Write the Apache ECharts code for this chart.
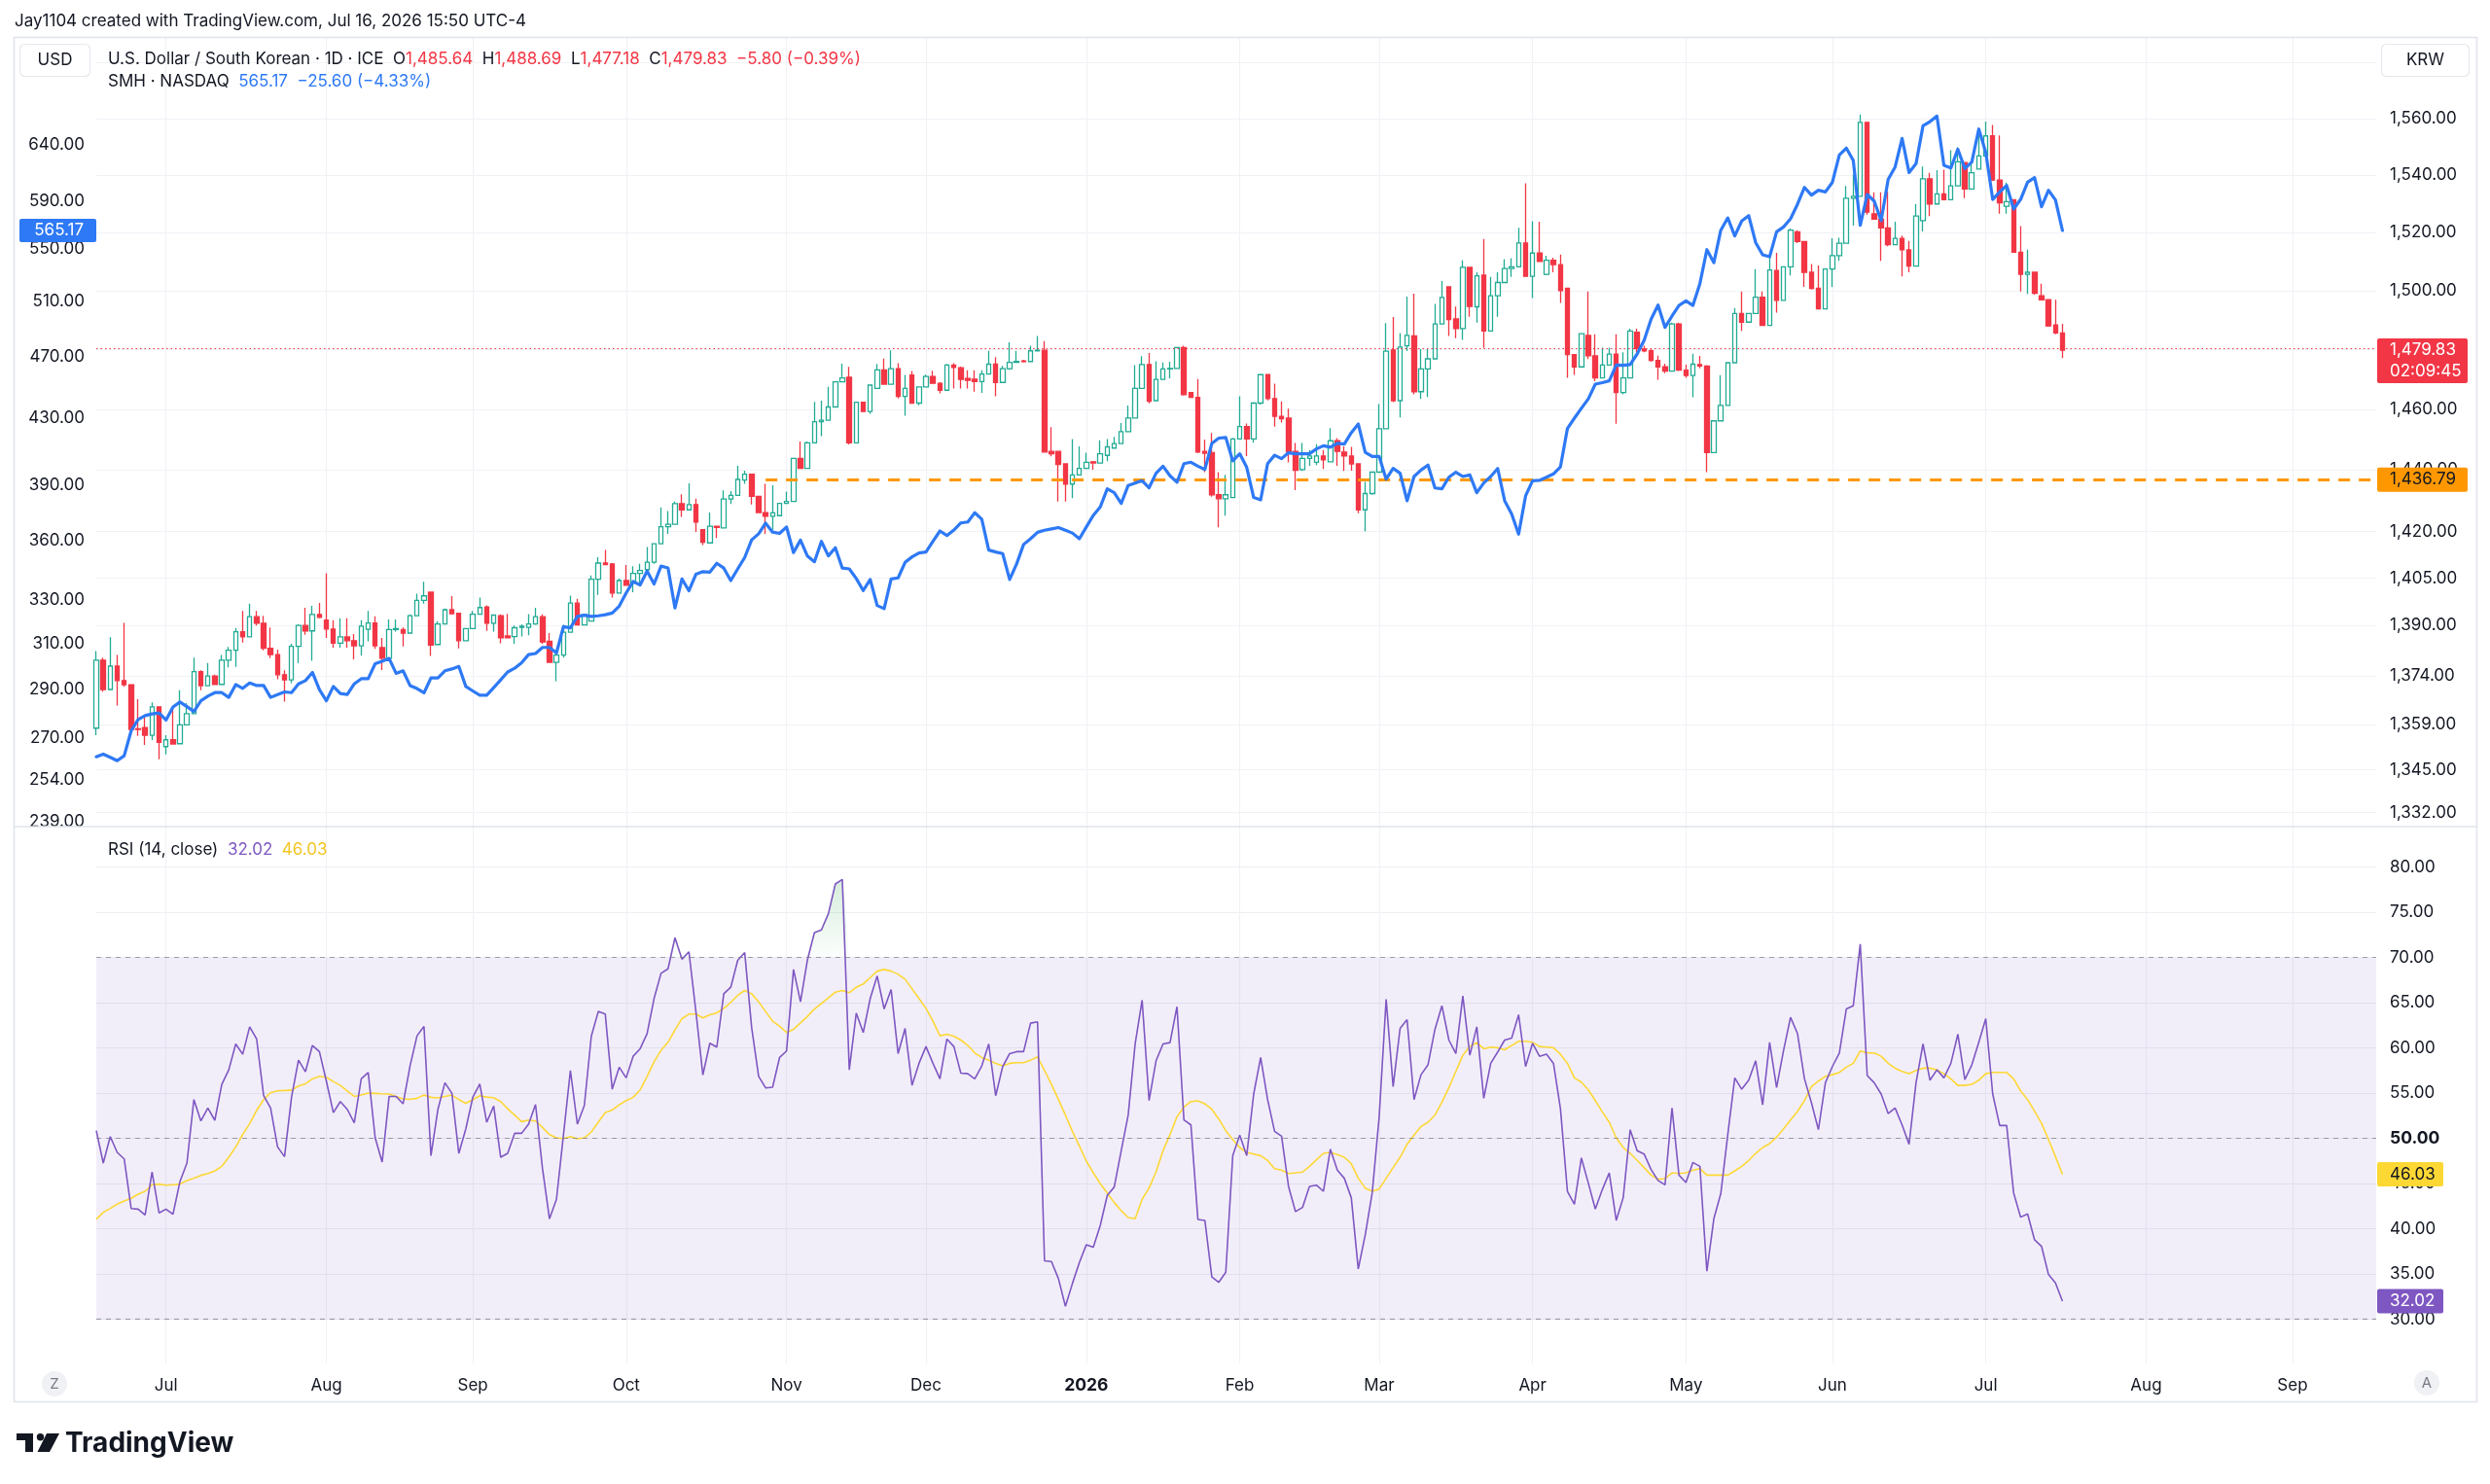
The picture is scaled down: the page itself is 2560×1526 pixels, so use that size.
<!DOCTYPE html>
<html><head><meta charset="utf-8">
<script src="https://cdn.jsdelivr.net/npm/echarts@6/dist/echarts.min.js"></script>
<style>html,body{margin:0;padding:0;background:#fff;}#c{width:2560px;height:1526px;}</style>
</head><body><div id="c"></div>
<script>
// ---------- data ----------
const krwOpen = [
1357.8,1379.0,1369.8,1377.1,1372.6,1371.3,1357.6,1358.0,1355.6,1364.4,
1352.1,1354.2,1353.0,1358.8,1362.3,1375.4,1371.0,1374.0,1371.4,1379.0,
1382.1,1387.9,1386.3,1392.7,1390.6,1382.7,1380.7,1374.4,1372.8,1383.3,
1389.9,1388.2,1393.4,1391.6,1388.8,1384.3,1386.3,1385.1,1383.5,1388.7,
1390.7,1382.9,1379.6,1388.6,1388.6,1387.5,1393.0,1397.9,1400.5,1383.9,
1390.4,1394.9,1393.8,1385.1,1388.9,1393.5,1395.8,1390.6,1393.0,1386.6,
1386.4,1389.3,1389.3,1390.4,1392.7,1384.9,1378.3,1380.6,1387.8,1397.0,
1390.1,1391.3,1404.6,1409.8,1409.5,1400.2,1404.2,1403.3,1406.5,1407.7,
1410.1,1416.0,1421.5,1422.3,1429.0,1427.0,1428.7,1420.6,1416.3,1421.7,
1421.1,1430.5,1431.7,1436.7,1438.6,1431.4,1426.1,1424.9,1425.1,1429.1,
1429.7,1443.8,1440.5,1448.9,1455.9,1456.4,1460.8,1469.2,1470.7,1448.9,
1462.4,1459.3,1467.0,1473.2,1468.4,1473.6,1464.3,1471.5,1462.1,1467.5,
1471.0,1468.7,1466.4,1474.8,1473.9,1470.3,1470.1,1469.3,1471.8,1475.1,
1469.0,1473.6,1475.7,1476.2,1476.0,1479.6,1479.8,1446.1,1446.1,1442.0,
1435.4,1438.4,1440.5,1442.7,1442.3,1444.8,1447.2,1448.7,1452.6,1457.1,
1467.0,1475.0,1462.9,1470.0,1473.5,1473.7,1480.7,1465.6,1464.0,1446.1,
1445.7,1431.9,1430.6,1431.0,1450.2,1454.3,1450.2,1462.1,1471.6,1463.6,
1457.7,1457.1,1446.1,1440.1,1443.8,1442.5,1444.6,1442.7,1449.6,1445.9,
1444.6,1442.0,1427.0,1432.3,1439.3,1453.6,1479.9,1462.9,1481.3,1484.6,
1465.9,1473.5,1476.9,1488.7,1501.3,1490.4,1487.1,1508.0,1494.5,1505.3,
1486.3,1498.3,1502.8,1507.6,1508.2,1516.4,1504.9,1512.9,1505.6,1510.4,
1508.9,1500.8,1478.3,1474.2,1484.8,1477.9,1470.5,1474.8,1478.5,1465.6,
1470.5,1485.9,1480.2,1479.6,1476.4,1474.2,1472.8,1488.7,1473.1,1471.3,
1475.0,1474.5,1445.7,1456.2,1461.3,1475.6,1492.2,1489.3,1492.2,1497.8,
1488.2,1506.9,1496.7,1508.2,1520.2,1516.9,1506.3,1500.8,1493.8,1507.4,
1512.0,1516.3,1531.9,1532.6,1558.6,1526.5,1524.6,1521.6,1515.8,1518.0,
1514.0,1508.4,1524.1,1538.7,1529.9,1533.4,1531.4,1536.2,1544.4,1535.1,
1542.1,1546.7,1553.8,1538.3,1529.1,1531.4,1513.2,1505.6,1506.3,1498.3,
1496.9,1488.3,1485.64];
const krwHigh = [
1381.8,1379.8,1386.2,1380.6,1390.7,1371.3,1366.8,1361.1,1365.8,1364.4,
1355.6,1363.6,1369.6,1365.6,1379.8,1375.8,1378.1,1374.4,1380.6,1383.1,
1389.1,1394.5,1396.8,1394.5,1393.0,1389.3,1382.3,1375.8,1384.1,1390.3,
1395.5,1396.1,1397.1,1406.5,1391.6,1392.2,1392.2,1387.2,1391.6,1394.5,
1392.8,1386.0,1391.8,1391.8,1389.3,1393.4,1400.0,1403.8,1400.5,1391.3,
1395.3,1399.2,1393.8,1389.1,1394.5,1398.8,1396.3,1393.4,1393.4,1393.6,
1389.9,1390.3,1393.5,1395.5,1393.4,1387.5,1382.3,1390.1,1399.4,1398.4,
1393.4,1405.8,1411.7,1414.0,1409.8,1404.8,1409.2,1408.8,1409.6,1415.0,
1416.2,1427.8,1426.6,1429.7,1432.1,1435.6,1430.6,1420.6,1426.1,1421.7,
1433.3,1433.1,1441.4,1439.8,1438.6,1431.4,1435.5,1435.0,1429.1,1432.9,
1443.8,1449.4,1449.4,1462.5,1462.9,1467.5,1469.2,1475.3,1474.2,1462.4,
1462.4,1468.1,1475.2,1477.0,1479.8,1475.4,1471.5,1472.8,1467.5,1471.6,
1472.9,1469.1,1475.2,1475.4,1474.3,1473.1,1473.1,1473.1,1479.6,1477.5,
1474.5,1482.5,1479.6,1476.6,1481.3,1484.6,1482.9,1454.1,1446.1,1442.0,
1450.2,1447.8,1445.7,1442.7,1449.8,1450.2,1450.9,1455.5,1461.3,1474.8,
1477.8,1478.9,1476.1,1475.7,1475.9,1480.9,1481.3,1465.6,1470.1,1450.0,
1452.2,1439.3,1438.4,1450.6,1464.4,1455.3,1462.4,1471.8,1471.8,1468.6,
1462.7,1460.2,1448.9,1448.9,1446.6,1448.5,1446.6,1453.8,1450.5,1447.8,
1447.6,1442.0,1436.1,1439.3,1461.8,1489.0,1491.0,1485.6,1498.0,1499.0,
1480.2,1480.2,1495.5,1503.3,1501.3,1494.6,1510.4,1508.0,1506.3,1517.8,
1504.7,1506.3,1510.8,1511.1,1521.6,1537.1,1523.9,1523.7,1512.0,1511.3,
1512.4,1500.8,1478.3,1485.4,1499.7,1485.2,1480.7,1480.7,1485.2,1479.1,
1487.1,1487.1,1481.3,1480.2,1478.0,1475.3,1489.1,1489.1,1474.9,1478.6,
1477.9,1474.8,1456.2,1471.4,1475.6,1494.1,1499.7,1492.2,1507.4,1499.7,
1511.9,1513.0,1508.2,1521.4,1520.8,1516.9,1509.1,1508.6,1507.4,1518.0,
1518.2,1536.2,1540.2,1561.4,1558.6,1534.0,1534.0,1534.2,1523.7,1518.9,
1517.1,1529.9,1543.0,1540.8,1541.7,1541.9,1548.7,1549.8,1544.4,1544.7,
1553.8,1558.9,1557.7,1554.0,1537.4,1531.6,1522.2,1514.1,1506.3,1502.4,
1496.9,1496.9,1488.69];
const krwLow = [
1355.6,1369.1,1369.8,1364.8,1370.6,1357.1,1355.4,1352.6,1354.1,1348.2,
1349.7,1352.9,1353.0,1358.6,1362.3,1369.6,1371.0,1371.4,1371.4,1376.7,
1376.9,1384.5,1386.3,1389.9,1382.1,1379.6,1373.0,1366.0,1371.8,1378.1,
1387.0,1378.8,1392.2,1386.0,1382.9,1382.9,1382.9,1379.2,1380.4,1384.9,
1382.5,1375.9,1379.6,1388.0,1383.3,1387.5,1393.0,1396.8,1380.3,1383.9,
1390.3,1393.6,1382.7,1385.1,1388.9,1393.5,1388.2,1388.0,1384.3,1386.0,
1384.1,1386.4,1386.8,1390.1,1384.1,1378.3,1372.4,1379.8,1387.8,1390.1,
1390.1,1391.1,1399.6,1409.2,1398.8,1400.2,1402.7,1400.5,1403.3,1407.5,
1409.6,1415.8,1419.2,1422.1,1424.7,1427.0,1419.8,1415.6,1416.3,1417.9,
1421.1,1428.9,1431.7,1435.5,1428.7,1426.1,1419.2,1420.5,1425.1,1428.9,
1429.7,1440.5,1440.5,1448.9,1451.1,1456.4,1460.8,1469.2,1448.4,1448.9,
1459.1,1458.5,1467.0,1468.4,1468.4,1463.6,1457.9,1461.9,1461.4,1467.3,
1468.5,1465.3,1466.4,1467.0,1467.0,1467.0,1465.9,1465.5,1471.8,1464.4,
1469.0,1473.2,1475.5,1475.7,1476.0,1479.4,1445.7,1444.5,1429.7,1429.7,
1430.8,1438.4,1440.3,1440.1,1442.3,1442.9,1447.0,1448.5,1452.6,1457.1,
1467.0,1462.0,1462.9,1470.0,1470.4,1473.7,1464.6,1463.8,1445.5,1439.3,
1431.3,1421.3,1425.1,1430.8,1450.2,1444.6,1449.0,1461.6,1463.0,1454.3,
1455.6,1442.5,1433.4,1439.7,1441.4,1441.6,1440.3,1442.5,1441.4,1439.7,
1439.8,1425.9,1420.0,1431.9,1439.3,1453.6,1462.4,1457.3,1479.5,1465.0,
1463.5,1464.1,1476.9,1488.7,1484.6,1483.9,1483.3,1491.1,1489.1,1480.6,
1486.3,1491.1,1502.8,1504.7,1508.2,1504.7,1497.5,1510.0,1505.3,1506.3,
1495.8,1470.5,1471.5,1473.9,1476.8,1469.4,1470.5,1474.8,1455.2,1465.0,
1470.5,1479.1,1479.1,1475.9,1469.9,1472.1,1472.8,1472.8,1470.5,1464.0,
1473.7,1439.3,1445.7,1456.2,1461.3,1475.6,1486.3,1489.1,1492.2,1488.0,
1488.0,1492.5,1496.7,1505.2,1516.3,1501.3,1500.4,1493.8,1493.6,1501.3,
1510.2,1516.3,1522.4,1532.6,1526.2,1524.6,1510.2,1515.2,1515.8,1504.9,
1506.3,1508.4,1520.4,1525.7,1529.9,1531.4,1531.4,1536.2,1531.9,1535.1,
1541.9,1546.7,1538.0,1526.5,1526.5,1513.2,1499.7,1498.9,1498.6,1496.9,
1487.7,1485.2,1477.18];
const krwClose = [
1379.0,1369.8,1377.1,1372.6,1371.3,1357.4,1357.4,1355.6,1364.4,1353.4,
1354.2,1352.9,1358.8,1362.3,1375.4,1371.0,1374.0,1371.4,1379.0,1382.1,
1387.9,1386.3,1392.7,1390.6,1382.7,1380.7,1374.4,1372.8,1383.3,1389.9,
1388.2,1393.4,1392.5,1388.8,1384.3,1386.3,1385.1,1383.5,1389.7,1390.7,
1383.5,1379.6,1388.6,1388.9,1387.5,1393.0,1397.9,1399.3,1383.7,1390.4,
1394.9,1393.6,1385.1,1388.9,1393.5,1395.6,1390.6,1393.2,1386.0,1386.0,
1389.2,1389.7,1390.4,1392.7,1384.7,1378.3,1380.6,1387.8,1397.0,1390.1,
1393.4,1404.6,1409.8,1409.3,1400.2,1404.2,1402.7,1406.5,1407.4,1410.1,
1416.0,1421.5,1422.3,1429.0,1427.0,1428.7,1423.0,1416.5,1421.7,1421.3,
1430.5,1431.7,1436.9,1438.6,1431.4,1426.1,1424.9,1426.0,1429.1,1429.7,
1443.8,1440.5,1448.9,1455.9,1456.4,1460.8,1469.2,1470.5,1448.9,1462.4,
1459.3,1468.1,1473.2,1468.4,1473.6,1464.3,1467.0,1462.1,1467.5,1471.0,
1468.7,1466.4,1474.8,1474.0,1470.0,1469.7,1469.3,1471.8,1475.1,1469.0,
1473.6,1475.7,1476.0,1476.0,1479.6,1479.8,1445.9,1445.3,1441.8,1435.4,
1438.4,1440.5,1442.5,1442.3,1445.3,1447.6,1448.7,1452.6,1457.1,1467.0,
1475.0,1462.7,1470.0,1473.5,1473.7,1480.7,1464.9,1464.0,1445.9,1445.5,
1431.9,1430.6,1431.9,1450.2,1454.3,1450.2,1462.1,1471.6,1463.6,1457.7,
1456.9,1445.9,1439.9,1443.8,1444.6,1444.6,1443.3,1449.6,1446.1,1444.6,
1442.0,1427.0,1432.3,1439.3,1453.6,1479.5,1462.9,1480.9,1484.8,1465.9,
1473.5,1476.9,1488.7,1497.7,1490.2,1487.1,1508.0,1494.6,1505.1,1486.3,
1498.3,1502.8,1507.6,1508.2,1516.4,1504.9,1512.9,1510.0,1510.4,1508.9,
1500.0,1478.3,1474.2,1485.4,1477.9,1470.5,1474.8,1478.5,1465.6,1470.5,
1486.3,1480.4,1479.6,1476.4,1474.2,1472.8,1488.7,1473.1,1471.3,1475.1,
1474.5,1445.7,1456.2,1461.3,1475.6,1492.2,1489.3,1492.2,1497.8,1488.2,
1507.1,1496.7,1508.2,1520.8,1516.9,1506.3,1500.8,1493.8,1507.4,1512.0,
1516.3,1531.9,1532.6,1558.6,1527.1,1524.6,1521.6,1515.8,1518.0,1514.0,
1508.4,1525.7,1538.7,1529.9,1533.4,1531.4,1536.2,1544.7,1535.1,1540.8,
1546.7,1553.8,1538.3,1530.3,1530.7,1513.2,1505.6,1506.3,1499.1,1496.9,
1488.0,1485.63,1479.83];
const smhClose = [
262.8,263.8,262.6,261.3,263.2,272.9,277.4,279.0,279.7,280.1,
277.2,282.5,284.6,282.7,280.7,285.1,287.0,288.5,288.5,286.5,
291.9,290.3,292.6,291.5,291.5,286.5,287.7,288.8,288.5,292.2,
293.6,297.1,289.8,285.1,291.1,288.1,287.7,292.2,294.4,294.4,
300.9,302.0,303.2,296.7,297.8,291.5,290.2,288.4,294.7,294.7,
297.8,298.6,299.7,291.1,289.2,287.4,287.4,290.6,293.9,297.3,
298.9,301.3,304.9,305.4,308.1,308.1,305.6,317.6,317.0,322.3,
322.9,322.3,322.6,323.1,323.9,327.2,333.5,339.2,337.4,344.3,
337.9,346.8,345.9,326.3,340.4,334.6,342.7,344.0,343.8,348.2,
345.8,339.6,345.4,351.2,360.3,363.5,369.2,364.4,363.7,367.1,
353.7,360.2,351.9,349.0,359.5,352.0,356.2,345.8,345.4,340.6,
334.7,340.1,327.5,326.0,340.4,340.9,348.7,351.5,353.5,354.0,
359.5,365.0,362.6,365.5,369.3,369.8,374.8,371.3,355.0,354.0,
353.2,340.1,347.9,357.9,360.9,364.3,365.4,366.1,366.8,365.4,
363.9,360.9,367.1,373.4,378.0,388.1,385.9,379.9,390.0,391.4,
392.7,388.7,397.0,401.1,395.5,391.8,402.6,403.4,401.1,399.2,
414.6,417.8,418.2,404.2,408.4,400.4,383.2,381.9,402.6,407.5,
405.5,409.0,408.4,408.4,408.4,411.3,413.2,412.3,414.6,414.2,
421.1,426.5,409.3,406.8,406.8,393.6,399.8,397.0,381.4,395.1,
398.8,401.7,388.6,388.1,394.7,397.6,395.1,396.0,385.9,391.4,
395.1,399.7,381.4,374.2,363.3,384.1,392.7,392.9,394.7,396.6,
400.7,423.7,430.1,436.3,442.4,451.9,452.9,454.1,464.7,464.5,
465.0,472.2,481.6,496.7,507.0,490.8,499.0,506.8,510.1,506.8,
523.1,549.6,539.3,565.4,575.6,560.7,573.0,577.5,555.3,545.5,
544.0,564.1,568.1,574.8,587.2,601.7,595.0,599.2,597.8,606.2,
630.8,637.1,625.7,569.4,595.5,589.9,573.4,608.8,619.9,646.2,
614.9,622.8,658.1,662.2,667.5,621.3,619.0,636.1,618.4,624.3,
655.0,633.2,591.3,597.8,603.4,583.0,591.3,606.2,610.3,585.0,
599.2,590.77,565.17];
const rsiValues = [
50.86,47.28,50.21,48.46,47.74,42.26,42.19,41.55,46.31,41.77,
42.19,41.62,45.24,47.28,54.30,51.93,53.37,52.01,55.98,57.59,
60.45,59.31,62.35,60.99,54.73,53.37,49.07,47.99,54.55,58.66,
57.38,60.28,59.60,56.34,52.86,54.08,53.22,51.72,56.59,57.30,
50.07,47.39,54.65,54.65,53.83,58.02,61.35,62.39,48.10,53.22,
56.16,55.01,48.35,51.07,54.55,56.02,51.79,53.58,47.92,48.35,
50.57,50.57,51.58,53.76,46.67,41.12,43.27,50.36,57.52,51.58,
53.65,61.31,64.04,63.75,55.44,57.88,56.70,59.09,59.92,61.60,
65.47,68.26,68.76,72.20,69.82,70.64,64.04,57.02,60.53,60.10,
66.00,66.72,69.69,70.55,62.24,56.87,55.59,55.66,58.95,59.67,
68.69,65.11,69.75,72.76,73.06,74.85,78.14,78.64,57.59,63.86,
61.71,65.47,67.97,64.32,66.47,59.38,62.17,55.87,58.31,60.17,
58.31,56.59,60.99,60.17,57.23,57.16,56.59,58.02,60.45,54.73,
57.95,59.38,59.60,59.60,62.75,62.89,36.47,36.39,34.50,31.45,
33.96,36.29,38.26,37.97,40.40,43.70,44.63,48.64,52.58,60.45,
65.29,54.19,58.59,60.45,60.60,64.57,52.04,51.50,41.05,40.94,
34.68,34.10,35.21,48.10,50.36,48.10,54.91,58.95,54.30,50.79,
50.25,44.70,41.91,42.37,44.70,44.84,44.16,48.82,46.49,45.60,
43.45,35.57,39.33,43.98,52.40,65.40,55.73,62.17,63.14,54.30,
57.05,58.13,62.07,64.68,60.88,59.38,65.75,59.20,62.35,54.44,
58.31,59.56,60.88,61.10,63.68,57.95,60.53,59.09,59.31,58.31,
53.29,44.16,42.73,47.85,45.06,42.19,44.34,46.20,40.94,43.45,
50.97,48.64,48.28,46.56,45.35,44.88,53.37,45.95,45.13,47.35,
46.92,35.32,41.12,43.91,50.43,56.70,55.44,56.44,58.59,53.72,
60.63,55.62,59.74,63.39,61.60,56.59,53.94,50.97,56.16,57.95,
59.45,64.32,64.68,71.48,56.95,56.16,54.91,52.76,53.37,51.50,
49.36,56.16,60.45,56.44,57.59,56.70,58.31,61.53,56.52,58.13,
60.63,63.25,54.91,51.43,51.43,43.98,41.30,41.66,38.79,38.08,
34.96,34.03,32.02];
const rsiMA = [
41.05,41.84,42.27,42.73,43.09,43.38,43.84,44.16,44.88,44.95,
44.84,44.88,44.95,45.35,45.60,45.92,46.13,46.42,46.92,47.92,
49.07,50.43,51.65,53.11,54.30,55.08,55.26,55.30,55.33,55.80,
56.05,56.59,56.87,56.77,56.30,55.87,55.26,54.65,54.80,55.01,
54.98,54.94,54.91,54.65,54.37,54.33,54.44,54.80,54.55,54.48,
54.65,54.80,54.30,53.90,54.30,54.73,54.58,54.51,54.08,53.29,
52.58,51.86,52.04,51.93,51.22,50.43,50.07,50.00,50.21,49.96,
50.07,50.72,51.79,52.86,53.15,53.72,54.19,54.55,55.37,56.87,
58.48,59.74,60.63,61.99,63.25,63.75,63.75,63.32,63.68,63.89,
64.39,65.04,65.83,66.36,66.00,65.11,64.04,62.96,62.42,61.71,
62.07,62.78,63.50,64.32,64.93,65.54,66.18,66.36,66.11,66.72,
67.08,67.79,68.50,68.69,68.50,68.15,67.61,66.54,65.47,64.39,
62.96,61.35,61.53,61.31,60.88,60.28,59.45,58.95,58.66,58.31,
58.02,58.31,58.38,58.38,58.66,59.02,57.52,55.98,54.30,52.58,
50.79,49.18,47.49,46.20,44.99,43.98,42.91,42.02,41.26,41.12,
43.27,44.52,46.31,48.64,50.43,52.40,53.47,54.08,54.15,53.83,
53.22,52.15,50.86,49.89,49.00,48.46,48.28,48.10,47.57,46.67,
46.49,46.13,46.20,46.28,46.92,47.64,48.35,48.46,48.21,47.92,
47.21,45.60,44.52,44.16,44.41,45.60,46.78,47.92,49.36,50.36,
51.32,51.79,52.58,54.01,55.62,57.41,59.20,60.17,60.60,59.92,
60.10,60.03,59.81,60.28,60.74,60.74,60.63,60.17,60.10,60.03,
59.31,58.31,56.70,56.23,55.37,54.19,52.94,51.79,50.07,49.00,
48.35,47.57,46.78,45.95,45.49,45.56,46.20,46.13,46.20,46.49,
46.67,45.95,45.95,45.95,45.95,46.42,46.92,47.57,48.35,49.00,
49.43,50.14,51.07,52.04,53.01,54.19,55.73,56.34,56.87,57.05,
57.30,57.88,58.31,59.67,59.45,59.45,59.09,58.31,57.77,57.41,
57.16,57.52,57.77,57.77,57.59,57.16,56.59,55.87,55.87,55.98,
56.44,57.16,57.30,57.30,57.30,56.59,55.26,54.30,53.01,51.68,
49.89,47.99,46.03];

const smhTicks = [640, 590, 550, 510, 470, 430, 390, 360, 330, 310, 290, 270, 254, 239];
const krwTicks = [1560, 1540, 1520, 1500, 1460, 1440, 1420, 1405, 1390, 1374, 1359, 1345, 1332];
const krwGridTicks = [1580, 1560, 1540, 1520, 1500, 1480, 1460, 1440, 1420, 1405, 1390, 1374, 1359, 1345, 1332];
const rsiTicks = [80, 75, 70, 65, 60, 55, 50, 45, 40, 35, 30];
const rsiLevels = [70, 50, 30];
const supportLevel = 1436.79;      // horizontal ray drawn by the author
const supportStartIndex = 96;
const countdown = '02:09:45';
const smhChange = '−25.60 (−4.33%)';
const krwChange = '−5.80 (−0.39%)';
const monthNames = ['Jan','Feb','Mar','Apr','May','Jun','Jul','Aug','Sep','Oct','Nov','Dec'];

// ---------- time axis: weekday bars from 2025-06-17 ----------
const categoryCount = 328;
const dates = [];
for (let t = Date.UTC(2025, 5, 17); dates.length < categoryCount; t += 86400000) {
  const d = new Date(t), wd = d.getUTCDay();
  if (wd !== 0 && wd !== 6) dates.push(d.toISOString().slice(0, 10));
}
const isMonthStart = i => i > 0 && dates[i].slice(0, 7) !== dates[i - 1].slice(0, 7);

// ---------- helpers ----------
const T = '#131722';
const FONT = 'Inter, "Noto Sans", sans-serif';
const fmt2 = v => v.toLocaleString('en-US', {minimumFractionDigits: 2, maximumFractionDigits: 2});
const ln = Math.log;
const N = krwClose.length;
const last = N - 1;
const AX = 17;   // axis font size

const candleData = krwOpen.map((o, i) => [ln(o), ln(krwClose[i]), ln(krwLow[i]), ln(krwHigh[i])]);
const smhData = smhClose.map(v => ln(v));
const obData = rsiValues.map(v => Math.max(v, 70));

const GL = 99, GR = 2443;
const grids = [
  {left: GL, right: 2560 - GR, top: 39, height: 811, containLabel: false, outerBoundsMode: 'none'},
  {left: GL, right: 2560 - GR, top: 850, height: 552, containLabel: false, outerBoundsMode: 'none'}
];

const xBase = gi => ({
  type: 'category', gridIndex: gi, data: dates, boundaryGap: false,
  axisLine: {show: false}, axisTick: {show: false},
  splitLine: {show: true, interval: (i) => isMonthStart(i), lineStyle: {color: '#f0f2f6', width: 1.2}},
  axisPointer: {show: false}
});

const option = {
  animation: false,
  backgroundColor: '#ffffff',
  textStyle: {fontFamily: FONT},
  grid: grids,
  xAxis: [
    Object.assign(xBase(0), {axisLabel: {show: false}}),
    Object.assign(xBase(1), {axisLabel: {
      show: true, interval: (i) => isMonthStart(i), margin: 14,
      color: T, fontSize: 17, fontFamily: FONT,
      formatter: (v) => {
        const m = +v.slice(5, 7);
        return m === 1 ? '{y|' + v.slice(0, 4) + '}' : monthNames[m - 1];
      },
      rich: {y: {fontWeight: 'bold', fontSize: 17.5, color: T, fontFamily: FONT}}
    }})
  ],
  yAxis: [
    {type: 'value', gridIndex: 0, position: 'left', min: ln(237.4), max: ln(747.9),
     axisLine: {show: false}, axisTick: {show: false, customValues: smhTicks.map(ln)}, splitLine: {show: false},
     axisLabel: {customValues: smhTicks.map(ln), formatter: v => Math.exp(v).toFixed(2),
       color: T, fontSize: AX, margin: 12, fontFamily: FONT}},
    {type: 'value', gridIndex: 0, position: 'right', min: ln(1327.7), max: ln(1588.85),
     axisLine: {show: false}, axisTick: {show: false, customValues: krwGridTicks.map(ln)},
     splitLine: {show: true, lineStyle: {color: '#f0f2f6', width: 1.2}},
     axisLabel: {customValues: krwTicks.map(ln), formatter: v => fmt2(Math.exp(v)),
       color: T, fontSize: AX, margin: 14, fontFamily: FONT}},
    {type: 'value', gridIndex: 1, position: 'right', min: 25.13, max: 84.48,
     axisLine: {show: false}, axisTick: {show: false, customValues: rsiTicks},
     splitLine: {show: true, lineStyle: {color: '#eceef3', width: 1.2}},
     axisLabel: {customValues: rsiTicks, formatter: v => (Math.round(v) === 50 ? '{b|50.00}' : v.toFixed(2)),
       color: T, fontSize: AX, margin: 14, fontFamily: FONT,
       rich: {b: {fontWeight: 'bold', fontSize: 17.5, color: T, fontFamily: FONT}}}}
  ],
  series: [
    {
      type: 'candlestick', name: 'USDKRW', xAxisIndex: 0, yAxisIndex: 1, data: candleData,
      barWidth: 5, z: 3,
      itemStyle: {color: '#ffffff', color0: '#F23645', borderColor: '#22ab94', borderColor0: '#F23645', borderWidth: 1.3},
      markLine: {
        silent: true, symbol: ['none', 'none'], animation: false,
        label: {show: false},
        data: [
          {yAxis: ln(krwClose[last]), lineStyle: {color: '#F23645', type: [1.5, 3], width: 1.2}},
          [{coord: [supportStartIndex, ln(supportLevel)]}, {coord: [categoryCount - 1, ln(supportLevel)],
            lineStyle: {color: '#FF9800', type: [12, 9], width: 3}}]
        ]
      }
    },
    {
      type: 'line', name: 'SMH', xAxisIndex: 0, yAxisIndex: 0, data: smhData, z: 5,
      showSymbol: false, symbol: 'none',
      lineStyle: {color: '#2E79F5', width: 3.2, cap: 'round', join: 'round'}
    },
    {
      type: 'line', name: 'OB', xAxisIndex: 1, yAxisIndex: 2, data: obData, z: 2,
      showSymbol: false, symbol: 'none', silent: true,
      lineStyle: {width: 0, opacity: 0},
      areaStyle: {origin: 70, color: {type: 'linear', x: 0, y: 0, x2: 0, y2: 1, colorStops: [
        {offset: 0, color: 'rgba(60,170,90,0.30)'}, {offset: 1, color: 'rgba(60,170,90,0.02)'}]}}
    },
    {
      type: 'line', name: 'RSI', xAxisIndex: 1, yAxisIndex: 2, data: rsiValues, z: 4,
      showSymbol: false, symbol: 'none',
      lineStyle: {color: '#7E57C2', width: 1.6},
      markArea: {silent: true, itemStyle: {color: 'rgba(126,87,194,0.10)'},
        data: [[{yAxis: rsiLevels[2]}, {yAxis: rsiLevels[0]}]]},
      markLine: {silent: true, symbol: ['none', 'none'], label: {show: false},
        lineStyle: {color: 'rgba(120,123,134,0.7)', type: [5, 5], width: 1.2},
        data: rsiLevels.map(v => ({yAxis: v}))}
    },
    {
      type: 'line', name: 'RSI MA', xAxisIndex: 1, yAxisIndex: 2, data: rsiMA, z: 3,
      showSymbol: false, symbol: 'none',
      lineStyle: {color: '#FDD835', width: 1.6}
    }
  ]
};

const chart = echarts.init(document.getElementById('c'), null, {renderer: 'canvas', width: 2560, height: 1526});
chart.setOption(option);

// ---------- static decorations & price boxes ----------
const txt = (x, y, text, font, fill, align) => ({
  type: 'text', x: x, y: y, z: 100, silent: true,
  style: {text: text, font: font, fill: fill, textAlign: align || 'left', align: align || 'left',
          textVerticalAlign: 'middle', verticalAlign: 'middle'}
});
const richTxt = (x, y, text, rich, font) => ({
  type: 'text', x: x, y: y, z: 100, silent: true,
  style: {text: text, rich: rich, font: font, fill: T, textVerticalAlign: 'middle', verticalAlign: 'middle'}
});
const box = (x, y, w, h, fill, r) => ({type: 'rect', z: 99, silent: true, shape: {x: x, y: y, width: w, height: h, r: r || 2}, style: {fill: fill}});

const FA = AX + 'px ' + FONT;
const FL = '17px ' + FONT;
const rs = c => ({fill: c, color: c, font: FL});

const yLast = chart.convertToPixel({yAxisIndex: 1}, ln(krwClose[last]));
const ySup = chart.convertToPixel({yAxisIndex: 1}, ln(supportLevel));
const ySmh = chart.convertToPixel({yAxisIndex: 0}, ln(smhClose[last]));
const yRsi = chart.convertToPixel({yAxisIndex: 2}, rsiValues[last]);
const yMa = chart.convertToPixel({yAxisIndex: 2}, rsiMA[last]);

const legend1 = '{n|U.S. Dollar / South Korean · 1D · ICE}  {n|O}{r|' + fmt2(krwOpen[last]) + '}  {n|H}{r|' +
  fmt2(krwHigh[last]) + '}  {n|L}{r|' + fmt2(krwLow[last]) + '}  {n|C}{r|' + fmt2(krwClose[last]) + '}  {r|' + krwChange + '}';
const legend2 = '{n|SMH · NASDAQ}  {b|' + fmt2(smhClose[last]) + '  ' + smhChange + '}';
const legend3 = '{n|RSI (14, close)}  {p|' + rsiValues[last].toFixed(2) + '}  {y|' + rsiMA[last].toFixed(2) + '}';

const graphics = [
  {type: 'rect', z: 50, silent: true, shape: {x: 14.5, y: 38.5, width: 2532, height: 1403}, style: {fill: 'none', stroke: '#e0e3eb', lineWidth: 1.5}},
  {type: 'line', z: 50, silent: true, shape: {x1: 14.5, y1: 850, x2: 2546.5, y2: 850}, style: {stroke: '#e0e3eb', lineWidth: 1.5}},
  txt(15, 22, 'Jay1104 created with TradingView.com, Jul 16, 2026 15:50 UTC-4', '17px ' + FONT, T),
  {type: 'rect', z: 99, silent: true, shape: {x: 20.5, y: 45.5, width: 72, height: 33, r: 5}, style: {fill: '#fff', stroke: '#e6e8ee', lineWidth: 1.2}},
  txt(56.5, 62, 'USD', FL, T, 'center'),
  {type: 'rect', z: 99, silent: true, shape: {x: 2448.5, y: 45.5, width: 90, height: 33, r: 5}, style: {fill: '#fff', stroke: '#e6e8ee', lineWidth: 1.2}},
  txt(2493.5, 62, 'KRW', FL, T, 'center'),
  richTxt(111, 61, legend1, {n: rs(T), r: rs('#F23645')}, FL),
  richTxt(111, 84, legend2, {n: rs(T), b: rs('#2E79F5')}, FL),
  richTxt(111, 874, legend3, {n: rs(T), p: rs('#7E57C2'), y: rs('#F2C624')}, FL),
  // price boxes on the scales
  box(2444, yLast - 12, 93, 46, '#F23645'),
  txt(2457, yLast, fmt2(krwClose[last]), FA, '#ffffff'),
  txt(2457, yLast + 22, countdown, FA, '#ffffff'),
  box(2444, ySup - 12.5, 93, 25, '#FF9800'),
  txt(2457, ySup, fmt2(supportLevel), FA, T),
  box(20, ySmh - 12, 79, 24, '#2E79F5'),
  txt(86, ySmh, fmt2(smhClose[last]), FA, '#ffffff', 'right'),
  box(2444, yMa - 12.5, 68, 25, '#FDD835'),
  txt(2457, yMa, rsiMA[last].toFixed(2), FA, T),
  box(2444, yRsi - 12.5, 68, 25, '#7E57C2'),
  txt(2457, yRsi, rsiValues[last].toFixed(2), FA, '#ffffff'),
  // Z / A buttons
  {type: 'circle', z: 99, silent: true, shape: {cx: 56, cy: 1423, r: 13}, style: {fill: '#f0f1f4'}},
  txt(56, 1423, 'Z', '15px ' + FONT, '#787b86', 'center'),
  {type: 'circle', z: 99, silent: true, shape: {cx: 2495, cy: 1422, r: 13}, style: {fill: '#f0f1f4'}},
  txt(2495, 1422, 'A', '15px ' + FONT, '#787b86', 'center'),
  // TradingView logo
  {type: 'rect', z: 99, silent: true, shape: {x: 17, y: 1474, width: 17, height: 7}, style: {fill: T}},
  {type: 'rect', z: 99, silent: true, shape: {x: 26, y: 1474, width: 8, height: 19}, style: {fill: T}},
  {type: 'circle', z: 99, silent: true, shape: {cx: 41.5, cy: 1477.8, r: 3.7}, style: {fill: T}},
  {type: 'polygon', z: 99, silent: true, shape: {points: [[48, 1474], [61, 1474], [51, 1493], [38.5, 1493]]}, style: {fill: T}},
  txt(67, 1485, 'TradingView', 'bold 28px ' + FONT, T)
];
chart.setOption({graphic: graphics});
</script></body></html>
